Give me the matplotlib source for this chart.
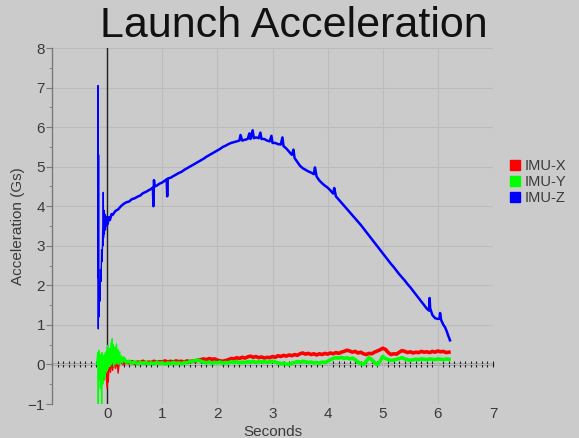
import numpy as np
import matplotlib
matplotlib.use("Agg")
import matplotlib.pyplot as plt
from matplotlib.lines import Line2D
from matplotlib.ticker import MultipleLocator, NullFormatter

plt.rcParams['font.family'] = ['Liberation Sans', 'DejaVu Sans']

# ---------------- data ----------------
title = "Launch Acceleration"
x_label = "Seconds"
y_label = "Acceleration (Gs)"
series_names = ["IMU-X", "IMU-Y", "IMU-Z"]
series_colors = ["#ff0000", "#00ff00", "#0000ff"]
x_ticks = [0, 1, 2, 3, 4, 5, 6, 7]
y_ticks = [-1, 0, 1, 2, 3, 4, 5, 6, 7, 8]

# IMU-Z (blue)
z_t = [-0.17, -0.165, -0.16, -0.155, -0.15, -0.14, -0.13, -0.12, -0.11, -0.10,
       -0.09, -0.08, -0.075, -0.07, -0.065, -0.06, -0.05, -0.04, -0.03, -0.02,
       -0.01, 0.0, 0.01, 0.03, 0.05, 0.08, 0.1, 0.15, 0.2, 0.25,
       0.3, 0.35, 0.4, 0.45, 0.5, 0.55, 0.6, 0.65, 0.7, 0.75,
       0.8, 0.83, 0.84, 0.85, 0.86, 0.9, 0.95, 1.0, 1.05, 1.08,
       1.09, 1.1, 1.15, 1.2, 1.25, 1.3, 1.35, 1.4, 1.45, 1.5,
       1.55, 1.6, 1.65, 1.7, 1.75, 1.8, 1.85, 1.9, 1.95, 2.0,
       2.05, 2.1, 2.15, 2.2, 2.25, 2.3, 2.35, 2.4, 2.42, 2.45,
       2.5, 2.55, 2.58, 2.6, 2.64, 2.66, 2.7, 2.75, 2.78, 2.8,
       2.85, 2.9, 2.95, 2.98, 3.0, 3.05, 3.1, 3.15, 3.18, 3.2,
       3.25, 3.3, 3.35, 3.38, 3.4, 3.45, 3.5, 3.55, 3.6, 3.65,
       3.7, 3.75, 3.77, 3.8, 3.85, 3.9, 3.95, 4.0, 4.05, 4.1,
       4.12, 4.15, 4.2, 4.25, 4.3, 4.35, 4.4, 4.45, 4.5, 4.55,
       4.6, 4.65, 4.7, 4.75, 4.8, 4.85, 4.9, 4.95, 5.0, 5.05,
       5.1, 5.15, 5.2, 5.25, 5.3, 5.35, 5.4, 5.45, 5.5, 5.55,
       5.6, 5.65, 5.7, 5.75, 5.8, 5.84, 5.85, 5.86, 5.9, 5.95,
       6.0, 6.03, 6.04, 6.06, 6.1, 6.13, 6.16, 6.19, 6.22]
z_g = [2.2, 7.05, 0.9, 5.3, 1.2, 2.0, 1.6, 2.4, 2.1, 2.9,
       2.6, 3.4, 3.0, 4.35, 3.2, 3.9, 3.3, 3.8, 3.4, 3.75,
       3.5, 3.7, 3.55, 3.72, 3.65, 3.8, 3.78, 3.88, 3.92, 4.0,
       4.06, 4.1, 4.12, 4.18, 4.2, 4.24, 4.27, 4.33, 4.36, 4.4,
       4.44, 4.47, 4.0, 4.66, 4.5, 4.52, 4.57, 4.6, 4.65, 4.68,
       4.25, 4.7, 4.72, 4.76, 4.8, 4.84, 4.87, 4.92, 4.96, 5.0,
       5.04, 5.08, 5.12, 5.16, 5.2, 5.25, 5.29, 5.33, 5.37, 5.41,
       5.45, 5.5, 5.53, 5.57, 5.6, 5.62, 5.64, 5.66, 5.8, 5.66,
       5.68, 5.7, 5.84, 5.7, 5.92, 5.72, 5.74, 5.72, 5.86, 5.7,
       5.7, 5.66, 5.64, 5.78, 5.6, 5.6, 5.57, 5.56, 5.74, 5.52,
       5.46, 5.38, 5.3, 5.43, 5.22, 5.12, 5.02, 4.96, 4.92, 4.88,
       4.85, 4.81, 4.98, 4.75, 4.65, 4.58, 4.52, 4.47, 4.4, 4.32,
       4.46, 4.25, 4.17, 4.09, 4.01, 3.93, 3.85, 3.77, 3.69, 3.61,
       3.53, 3.44, 3.35, 3.26, 3.17, 3.08, 2.99, 2.9, 2.81, 2.72,
       2.63, 2.54, 2.46, 2.37, 2.28, 2.2, 2.12, 2.03, 1.95, 1.86,
       1.77, 1.68, 1.59, 1.5, 1.41, 1.36, 1.68, 1.42, 1.25, 1.17,
       1.15, 1.16, 1.3, 1.12, 1.0, 0.94, 0.84, 0.72, 0.61]

# IMU-X (red): launch transient, then regular samples every 0.05 s from 0.30 s
x_t_early = [-0.12, -0.10, -0.08, -0.06, -0.04, -0.02, 0.00, 0.01, 0.02, 0.04,
             0.06, 0.08, 0.10, 0.12, 0.15, 0.18, 0.20, 0.22, 0.25]
x_g_early = [0.0, -0.3, 0.15, -0.4, 0.1, -0.25, -0.6, 0.05, -0.45, 0.1,
             -0.2, 0.08, -0.15, 0.1, -0.1, 0.05, -0.22, 0.06, 0.02]
x_g_main = [0.03, 0.06, 0.04, 0.07, 0.03, 0.06, 0.05, 0.08, 0.04, 0.06,
            0.05, 0.08, 0.05, 0.07, 0.06, 0.09, 0.06, 0.08, 0.06, 0.09,
            0.07, 0.08, 0.06, 0.09, 0.07, 0.09, 0.08, 0.11, 0.12, 0.14,
            0.12, 0.15, 0.13, 0.14, 0.11, 0.09, 0.08, 0.10, 0.12, 0.15,
            0.14, 0.17, 0.15, 0.18, 0.16, 0.19, 0.21, 0.18, 0.20, 0.17,
            0.19, 0.16, 0.18, 0.17, 0.20, 0.18, 0.22, 0.20, 0.23, 0.21,
            0.24, 0.22, 0.25, 0.23, 0.27, 0.29, 0.26, 0.28, 0.25, 0.27,
            0.24, 0.27, 0.25, 0.28, 0.26, 0.29, 0.27, 0.30, 0.28, 0.31,
            0.33, 0.36, 0.34, 0.31, 0.33, 0.29, 0.31, 0.27, 0.25, 0.28,
            0.27, 0.31, 0.34, 0.37, 0.41, 0.38, 0.30, 0.25, 0.27, 0.26,
            0.31, 0.35, 0.33, 0.30, 0.32, 0.29, 0.31, 0.30, 0.33, 0.31,
            0.32, 0.30, 0.33, 0.31, 0.34, 0.32, 0.33, 0.30, 0.31]

# IMU-Y (green)
y_t_early = [-0.19, -0.17, -0.16, -0.15, -0.14, -0.13, -0.12, -0.11, -0.10, -0.09,
             -0.08, -0.07, -0.06, -0.05, -0.04, -0.03, -0.02, -0.01, 0.0, 0.01,
             0.02, 0.04, 0.05, 0.07, 0.08, 0.09, 0.1, 0.11, 0.12, 0.14,
             0.15, 0.17, 0.18, 0.2, 0.21, 0.23, 0.24, 0.26, 0.28]
y_g_early = [0.0, 0.3, -1.0, 0.35, -0.4, 0.2, -0.6, 0.25, -1.0, 0.3,
             -0.5, 0.2, -0.3, 0.25, -0.35, 0.3, -0.2, 0.35, -0.15, 0.48,
             -0.1, 0.4, -0.05, 0.55, 0.0, 0.65, 0.05, 0.5, -0.05, 0.45,
             0.0, 0.52, 0.02, 0.38, 0.0, 0.32, 0.02, 0.22, 0.03]
y_g_main = [0.15, 0.06, 0.08, 0.03, 0.06, 0.02, 0.05, 0.03, 0.05, 0.02,
            0.04, 0.02, 0.05, 0.03, 0.04, 0.01, 0.04, 0.02, 0.05, 0.03,
            0.04, 0.02, 0.05, 0.04, 0.07, 0.08, 0.10, 0.11, 0.08, 0.06,
            0.04, 0.06, 0.03, 0.05, 0.04, 0.06, 0.03, 0.05, 0.04, 0.07,
            0.05, 0.07, 0.04, 0.06, 0.05, 0.07, 0.06, 0.08, 0.05, 0.07,
            0.06, 0.08, 0.05, 0.07, 0.08, 0.06, 0.04, 0.02, 0.03, 0.01,
            0.00, 0.03, 0.05, 0.07, 0.06, 0.08, 0.07, 0.05, 0.06, 0.04,
            0.05, 0.03, 0.06, 0.05, 0.08, 0.12, 0.15, 0.17, 0.16, 0.18,
            0.15, 0.17, 0.14, 0.16, 0.12, 0.06, 0.02, 0.00, 0.08, 0.17,
            0.12, 0.05, 0.00, 0.08, 0.20, 0.15, 0.12, 0.10, 0.11, 0.13,
            0.15, 0.17, 0.14, 0.12, 0.10, 0.12, 0.13, 0.12, 0.14, 0.13,
            0.12, 0.14, 0.13, 0.12, 0.14, 0.13, 0.12, 0.14, 0.13]

main_start, main_step = 0.30, 0.05

# ---------------- figure ----------------
bg = "#cbcbcb"
fig = plt.figure(figsize=(5.79, 4.38), dpi=100, facecolor=bg)
fig.add_artist(plt.Rectangle((0, 0), 1, 1, transform=fig.transFigure, color=bg, zorder=-10))
ax = fig.add_axes([52 / 579, 1 - 404 / 438, (493 - 52) / 579, (404 - 48) / 438])
ax.set_xlim(-1, 7)
ax.set_ylim(-1, 8)

x_main_t = list(main_start + main_step * np.arange(len(x_g_main)))
y_main_t = list(main_start + main_step * np.arange(len(y_g_main)))

# red
ax.plot(x_t_early + x_main_t[:1], x_g_early + x_g_main[:1], color=series_colors[0], lw=1.0, zorder=3)
ax.plot(x_main_t, x_g_main, color=series_colors[0], lw=2.6, zorder=3)
# green
ax.plot(y_t_early + y_main_t[:1], y_g_early + y_g_main[:1], color=series_colors[1], lw=1.0, zorder=4)
ax.plot(y_main_t, y_g_main, color=series_colors[1], lw=2.6, zorder=4)
# blue
split = z_t.index(0.0)
ax.plot(z_t[:split + 1], z_g[:split + 1], color=series_colors[2], lw=1.0, zorder=5)
ax.plot(z_t[split:], z_g[split:], color=series_colors[2], lw=1.8, zorder=5)

# grid
ax.set_xticks([-1] + x_ticks)
ax.xaxis.set_ticklabels([""] + [str(v) for v in x_ticks])
ax.set_yticks(y_ticks)
ax.grid(True, color="#bcbcbc", lw=0.8, zorder=0)
ax.set_axisbelow(True)

# spines
for s in ["top", "right", "bottom"]:
    ax.spines[s].set_visible(False)
ax.spines["left"].set_color("#7a7a7a")
ax.spines["left"].set_linewidth(1.0)
ax.yaxis.set_minor_locator(MultipleLocator(0.5))
ax.tick_params(axis="y", which="major", length=4, color="#7a7a7a", labelsize=11,
               labelcolor="#3a3a3a", pad=1)
ax.tick_params(axis="y", which="minor", length=2.5, color="#7a7a7a")
ax.tick_params(axis="x", which="major", length=0, labelsize=11, labelcolor="#3a3a3a", pad=2)

# zero axis lines
ax.axvline(0, color="#202020", lw=1.0, zorder=2)
ax2 = ax.twiny()
ax2.set_xlim(-1, 7)
for s in ["top", "right", "left"]:
    ax2.spines[s].set_visible(False)
ax2.spines["bottom"].set_visible(True)
ax2.spines["bottom"].set_position(("data", 0))
ax2.spines["bottom"].set_color("#202020")
ax2.spines["bottom"].set_linewidth(1.0)
ax2.xaxis.set_ticks_position("bottom")
ax2.set_xticks(x_ticks)
ax2.xaxis.set_minor_locator(MultipleLocator(0.1))
ax2.xaxis.set_major_formatter(NullFormatter())
ax2.tick_params(axis="x", which="both", direction="inout", length=5, width=0.8,
                color="#202020", labelbottom=False, labeltop=False)
ax2.set_zorder(0.5)
ax.set_zorder(1)
ax.patch.set_visible(False)
ax2.patch.set_visible(False)

# labels
fig.text(0.508, 1 - 26 / 438, title, ha="center", va="center", fontsize=31, color="#111111")
ax.set_xlabel(x_label, fontsize=11, color="#3a3a3a", labelpad=3)
ax.set_ylabel(y_label, fontsize=11, color="#3a3a3a", labelpad=2)

handles = [Line2D([], [], marker="s", ls="none", color=c, markersize=7) for c in series_colors]
fig.legend(handles, series_names, loc="upper left", bbox_to_anchor=(503 / 579, 1 - 153 / 438),
           frameon=False, fontsize=10.5, labelcolor="#3a3a3a", handlelength=0.8,
           handletextpad=0.3, labelspacing=0.15, borderaxespad=0)

fig.savefig("out.png", dpi=100, facecolor=bg)
